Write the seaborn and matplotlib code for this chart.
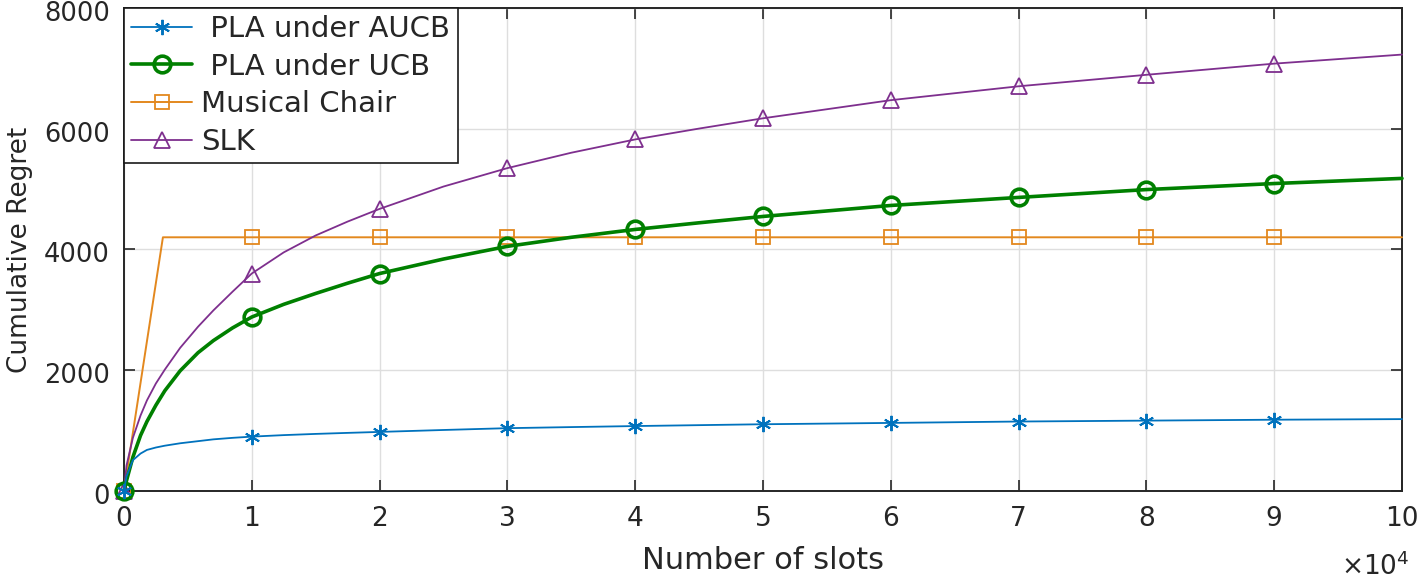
import numpy as np
import pandas as pd
import matplotlib
matplotlib.use("Agg")
import matplotlib.pyplot as plt
import matplotlib.transforms as mtransforms
import seaborn as sns

# values (x in slots, y = cumulative regret)
slots = [0, 200, 700, 1300, 1800, 2500, 3200, 4400, 5800, 7000, 8500, 10000,
         12500, 15000, 17500, 20000, 25000, 30000, 35000, 40000, 45000, 50000,
         60000, 70000, 80000, 90000, 100000]
aucb = [0, 240, 510, 620, 680, 720, 750, 790, 825, 855, 880, 900,
        925, 945, 962, 978, 1010, 1040, 1058, 1075, 1090, 1105,
        1127, 1150, 1165, 1180, 1190]
ucb = [0, 170, 560, 920, 1150, 1420, 1660, 1990, 2290, 2490, 2700, 2880,
       3090, 3270, 3440, 3600, 3840, 4050, 4200, 4330, 4440, 4545,
       4727, 4860, 4990, 5090, 5175]
slk = [0, 420, 880, 1250, 1500, 1780, 2010, 2370, 2720, 2990, 3300, 3600,
       3950, 4230, 4460, 4670, 5040, 5345, 5600, 5820, 6000, 6170,
       6470, 6700, 6890, 7075, 7225]

chair_slots = [0, 3050, 10000, 20000, 30000, 40000, 50000, 60000,
               70000, 80000, 90000, 100000]
chair = [0, 4200, 4200, 4200, 4200, 4200, 4200, 4200,
         4200, 4200, 4200, 4200]

xtick_vals = [0, 10000, 20000, 30000, 40000, 50000, 60000, 70000, 80000, 90000, 100000]
xtick_labels = ["0", "1", "2", "3", "4", "5", "6", "7", "8", "9", "10"]
ytick_vals = [0, 2000, 4000, 6000, 8000]


def marks(xs):
    # markers only on the whole 10^4 steps, as in the original
    return [i for i, v in enumerate(xs) if v % 10000 == 0 and v < 100000]


sns.set_style("ticks")
plt.rcParams["font.family"] = ["DejaVu Sans"]
plt.rcParams["mathtext.fontset"] = "dejavusans"

fig = plt.figure(figsize=(14.18, 5.79), dpi=100)
ax = fig.add_axes([0.0874, 0.152, 0.9013, 0.8346])

blue, green, orange, purple = "#0072BD", "#008000", "#E3881E", "#7E2F8E"

sns.lineplot(x=slots, y=aucb, ax=ax, color=blue, lw=1.3, marker=(6, 2, 0),
             markevery=marks(slots), markersize=11, markeredgewidth=1.4,
             markeredgecolor=blue, label=" PLA under AUCB", clip_on=False, zorder=5)
sns.lineplot(x=slots, y=ucb, ax=ax, color=green, lw=2.6, marker="o",
             markevery=marks(slots), markersize=12, markeredgewidth=2.6,
             markeredgecolor=green, markerfacecolor="none",
             label=" PLA under UCB", clip_on=False, zorder=4)
sns.lineplot(x=chair_slots, y=chair, ax=ax, color=orange, lw=1.4, marker="s",
             markevery=marks(chair_slots), markersize=10, markeredgewidth=1.3,
             markeredgecolor=orange, markerfacecolor="none",
             label="Musical Chair", clip_on=False, zorder=3)
sns.lineplot(x=slots, y=slk, ax=ax, color=purple, lw=1.3, marker="^",
             markevery=marks(slots), markersize=12, markeredgewidth=1.3,
             markeredgecolor=purple, markerfacecolor="none",
             label="SLK", clip_on=False, zorder=3)

ax.set_xlim(0, 100000)
ax.set_ylim(0, 8000)
ax.set_xticks(xtick_vals)
ax.set_xticklabels(xtick_labels)
ax.set_yticks(ytick_vals)
ax.grid(True, color="#dedede", lw=1)
ax.set_axisbelow(True)
ax.tick_params(direction="in", length=8, width=1.2, top=True, right=True,
               color="#262626", labelcolor="#262626")
ax.tick_params(axis="x", pad=11, labelsize=19)
ax.tick_params(axis="y", pad=10, labelsize=18.5)
# MATLAB puts the y labels a touch below the tick
shift = mtransforms.ScaledTranslation(0, -3 / 100, fig.dpi_scale_trans)
for lab in ax.get_yticklabels():
    lab.set_transform(lab.get_transform() + shift)
for s in ax.spines.values():
    s.set_color("#262626")
    s.set_linewidth(1.4)

ax.set_xlabel("Number of slots", fontsize=22, color="#262626", labelpad=10)
ax.set_ylabel("Cumulative Regret", fontsize=19, color="#262626", labelpad=8)

fig.text(1410 / 1418, 1 - 575 / 579, r"$\times10^{4}$", ha="right",
         va="baseline", fontsize=19, color="#262626")

leg = ax.legend(loc="upper left", fontsize=21, frameon=True, fancybox=False,
                framealpha=1, edgecolor="#1a1a1a", borderaxespad=0,
                borderpad=0.25, labelspacing=0.33, handlelength=2.1,
                handletextpad=0.3)
leg.get_frame().set_linewidth(1.2)

fig.savefig("out.png", dpi=100)
